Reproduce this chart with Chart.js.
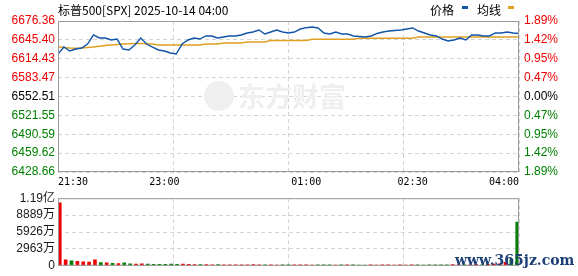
<!DOCTYPE html>
<html lang="zh-CN">
<head>
<meta charset="UTF-8">
<title>标普500 分时</title>
<script src="https://cdn.jsdelivr.net/npm/chart.js@4"></script>
<style>
  body { margin: 0; background: #fff; }
  #wrap { position: relative; width: 578px; height: 276px; overflow: hidden; }
  canvas { position: absolute; left: 0; }
  #priceChart { top: 0; }
  #volChart { top: 188px; }
  #mark { position: absolute; left: 455px; top: 252px; font: bold 14px "DejaVu Serif"; color: #1d3f78; }
</style>
</head>
<body>
<div id="wrap">
  <canvas id="priceChart" width="578" height="190"></canvas>
  <canvas id="volChart" width="578" height="88"></canvas>
  <div id="mark">www.365jz.com</div>
</div>
<script>
// 标普500 分时 2025-10-14, 5分钟取一点
const prevClose = 6552.51;
const price = [6622.2, 6633.7, 6627.1, 6630.4, 6632.1, 6638.6, 6653.4, 6648.5, 6648.5, 6645.2,
  6646.8, 6630.4, 6628.8, 6637.0, 6648.5, 6638.6, 6633.7, 6628.8, 6627.1, 6623.9,
  6622.2, 6638.6, 6645.2, 6648.5, 6646.8, 6651.8, 6651.8, 6648.5, 6650.1, 6651.8,
  6651.8, 6653.4, 6656.7, 6658.3, 6661.6, 6655.0, 6658.3, 6661.6, 6658.3, 6656.7,
  6658.3, 6663.2, 6665.4, 6666.5, 6664.9, 6656.7, 6655.0, 6658.3, 6655.0, 6655.0,
  6651.8, 6651.0, 6650.1, 6651.8, 6655.9, 6658.3, 6659.9, 6660.8, 6661.6, 6663.2,
  6664.9, 6659.9, 6656.7, 6653.4, 6651.8, 6646.8, 6643.6, 6645.2, 6648.5, 6645.2,
  6653.4, 6653.4, 6651.8, 6651.8, 6656.7, 6656.7, 6658.3, 6656.7, 6655.9];
const avgLine = [6634.2, 6632.9, 6632.1, 6631.6, 6632.1, 6632.9, 6633.7, 6634.9, 6636.2, 6637.0,
  6637.8, 6638.6, 6639.0, 6639.5, 6639.5, 6639.0, 6638.6, 6637.0, 6637.0, 6637.0,
  6637.0, 6637.0, 6637.0, 6637.0, 6637.0, 6638.6, 6638.6, 6638.6, 6640.3, 6640.3,
  6640.3, 6640.3, 6641.9, 6641.9, 6641.9, 6641.9, 6644.4, 6644.4, 6644.4, 6644.4,
  6644.4, 6644.4, 6644.4, 6646.4, 6646.4, 6646.4, 6646.4, 6646.4, 6646.4, 6646.4,
  6646.4, 6648.0, 6648.0, 6648.0, 6648.0, 6648.0, 6648.0, 6648.0, 6648.0, 6648.0,
  6648.0, 6650.1, 6650.1, 6650.1, 6650.1, 6650.1, 6650.1, 6650.1, 6650.1, 6650.1,
  6650.1, 6650.1, 6650.1, 6650.1, 6650.1, 6650.1, 6650.1, 6650.1, 6650.1];
// 成交量 (万)
const volume = [11050, 1050, 850, 800, 700, 650, 1050, 550, 500, 450,
  400, 500, 350, 300, 350, 300, 250, 250, 250, 300,
  250, 300, 250, 200, 200, 200, 170, 200, 160, 180,
  150, 170, 160, 200, 160, 150, 170, 140, 160, 150,
  180, 160, 150, 140, 170, 150, 160, 140, 150, 160,
  150, 140, 130, 150, 140, 160, 150, 140, 150, 130,
  150, 160, 140, 150, 170, 160, 150, 200, 160, 170,
  180, 200, 170, 250, 300, 350, 600, 1200, 7650];

const yTicks = [6676.36, 6645.40, 6614.43, 6583.47, 6552.51, 6521.55, 6490.59, 6459.62, 6428.66];
const yTickLabels = ['6676.36', '6645.40', '6614.43', '6583.47', '6552.51', '6521.55', '6490.59', '6459.62', '6428.66'];
const pctTickLabels = ['1.89%', '1.42%', '0.95%', '0.47%', '0.00%', '0.47%', '0.95%', '1.42%', '1.89%'];
const volTicks = [11852, 8889, 5926, 2963, 0];
const volTickLabels = ['1.19亿', '8889万', '5926万', '2963万', '0'];
const gridMinutes = [0, 97.5, 195, 292.5, 390];
const tickMinutes = [0, 90, 210, 300, 390];
const timeLabels = ['21:30', '23:00', '01:00', '02:30', '04:00'];

const RED = '#f00000', GREEN = '#008000';
const gridColor = '#d4d4d4';
const axisFont = { family: "'Liberation Sans', 'Noto Sans CJK SC'", size: 12 };
const minutes = price.map((_, i) => i * 5);

function tickColor(v) {
  if (Math.abs(v - prevClose) < 0.001) return '#000';
  return v > prevClose ? RED : GREEN;
}

const frame = {
  id: 'frame',
  afterDraw(chart) {
    const { ctx, chartArea: a } = chart;
    ctx.save();
    ctx.strokeStyle = '#9a9a9a';
    ctx.lineWidth = 1;
    ctx.strokeRect(a.left + 0.5, a.top + 0.5, a.right - a.left - 1, a.bottom - a.top - 1);
    ctx.restore();
  }
};

const decor = {
  id: 'decor',
  beforeDatasetsDraw(chart) {
    const ctx = chart.ctx;
    ctx.save();
    ctx.fillStyle = '#efefef';
    ctx.beginPath();
    ctx.arc(219, 96, 15, 0, Math.PI * 2);
    ctx.fill();
    ctx.font = 'bold 27px "Noto Sans CJK SC"';
    ctx.textBaseline = 'middle';
    ctx.fillText('东方财富', 238, 97);
    ctx.restore();
  },
  afterDraw(chart) {
    const ctx = chart.ctx;
    ctx.save();
    ctx.textBaseline = 'middle';
    ctx.fillStyle = '#000';
    ctx.font = '12px "Noto Sans CJK SC"';
    ctx.fillText('标普500[SPX] 2025-10-14 04:00', 58, 10);
    ctx.fillText('价格', 430, 10);
    ctx.fillText('均线', 477, 10);
    ctx.fillStyle = '#1155a8';
    ctx.fillRect(462, 6, 6, 3);
    ctx.fillStyle = '#e0a020';
    ctx.fillRect(508, 6, 6, 3);
    ctx.restore();
  }
};

new Chart(document.getElementById('priceChart'), {
  type: 'line',
  data: {
    datasets: [
      { label: '价格', data: minutes.map((m, i) => ({ x: m, y: price[i] })),
        borderColor: '#1155a8', borderWidth: 1.4, pointRadius: 0, tension: 0 },
      { label: '均线', data: minutes.map((m, i) => ({ x: m, y: avgLine[i] })),
        borderColor: '#e0a020', borderWidth: 1.4, pointRadius: 0, tension: 0 }
    ]
  },
  options: {
    responsive: false,
    animation: false,
    devicePixelRatio: 1,
    layout: { padding: { top: 21, left: 0, right: 0, bottom: 0 } },
    plugins: { legend: { display: false }, tooltip: { enabled: false } },
    scales: {
      x: {
        type: 'linear', min: 0, max: 390, position: 'bottom',
        afterBuildTicks: a => { a.ticks = gridMinutes.map(v => ({ value: v })); },
        ticks: { display: false },
        grid: { color: gridColor, drawTicks: false },
        border: { display: false, dash: [4, 3] },
        afterFit: a => { a.height = 0; }
      },
      xl: {
        type: 'linear', min: 0, max: 390, position: 'bottom',
        afterBuildTicks: a => { a.ticks = tickMinutes.map(v => ({ value: v })); },
        ticks: { callback: (v, i) => timeLabels[i], align: 'inner', autoSkip: false, maxRotation: 0,
                 padding: 4, color: '#000', font: { family: "'DejaVu Sans Mono'", size: 10 } },
        grid: { display: false, drawTicks: false },
        border: { display: false },
        afterFit: a => { a.height = 18; }
      },
      y: {
        position: 'left', min: 6428.66, max: 6676.36,
        afterBuildTicks: a => { a.ticks = yTicks.slice().reverse().map(v => ({ value: v })); },
        ticks: { callback: v => yTickLabels[yTicks.indexOf(v)], color: c => tickColor(c.tick.value),
                 padding: 3, font: axisFont, autoSkip: false },
        grid: { color: gridColor, drawTicks: false },
        border: { display: false, dash: [4, 3] },
        afterFit: a => { a.width = 58; }
      },
      y1: {
        position: 'right', min: 6428.66, max: 6676.36,
        afterBuildTicks: a => { a.ticks = yTicks.slice().reverse().map(v => ({ value: v })); },
        ticks: { callback: v => pctTickLabels[yTicks.indexOf(v)], color: c => tickColor(c.tick.value),
                 padding: 5, font: axisFont, autoSkip: false },
        grid: { display: false, drawTicks: false },
        border: { display: false },
        afterFit: a => { a.width = 59; }
      }
    }
  },
  plugins: [decor, frame]
});

const barColors = volume.map((_, i) => (i === 0 || price[i] >= price[i - 1]) ? RED : GREEN);

new Chart(document.getElementById('volChart'), {
  type: 'bar',
  data: {
    datasets: [{ label: '成交量', xAxisID: 'xb', data: minutes.map((m, i) => ({ x: m, y: volume[i] })),
      backgroundColor: barColors, barThickness: 3 }]
  },
  options: {
    responsive: false,
    animation: false,
    devicePixelRatio: 1,
    layout: { padding: { top: 9, left: 0, right: 59, bottom: 6 } },
    plugins: { legend: { display: false }, tooltip: { enabled: false } },
    scales: {
      x: {
        type: 'linear', min: 0, max: 390, offset: false,
        afterBuildTicks: a => { a.ticks = gridMinutes.map(v => ({ value: v })); },
        ticks: { display: false },
        grid: { color: gridColor, drawTicks: false, offset: false },
        border: { display: false, dash: [4, 3] },
        afterFit: a => { a.height = 0; }
      },
      xb: {
        type: 'linear', min: -1.5, max: 391.5, offset: false, display: false
      },
      y: {
        min: 0, max: 11852,
        afterBuildTicks: a => { a.ticks = volTicks.slice().reverse().map(v => ({ value: v })); },
        ticks: { callback: v => volTickLabels[volTicks.indexOf(v)], color: '#1a1a1a',
                 padding: 3, font: axisFont, autoSkip: false },
        grid: { color: gridColor, drawTicks: false },
        border: { display: false, dash: [4, 3] },
        afterFit: a => { a.width = 58; }
      }
    }
  },
  plugins: [frame]
});
</script>
</body>
</html>
